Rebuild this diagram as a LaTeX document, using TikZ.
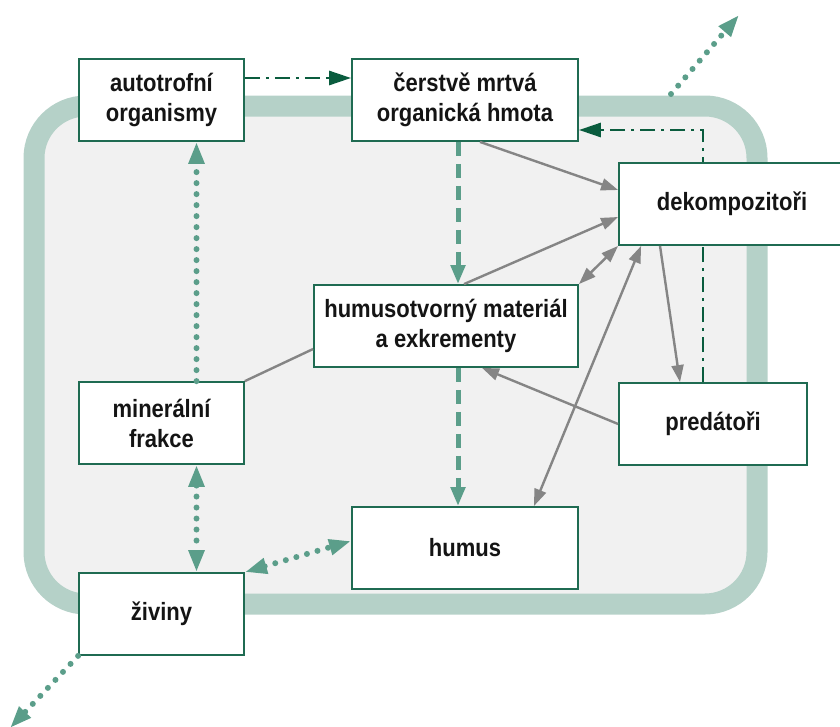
\documentclass[tikz,border=0pt]{standalone}
\usepackage{fontspec}
\setmainfont{Liberation Sans}[FakeStretch=0.88]
\usetikzlibrary{arrows.meta,calc}
\definecolor{band}{HTML}{B5D1C8}
\definecolor{bgfill}{HTML}{F1F1F1}
\definecolor{boxc}{HTML}{1F6B52}
\definecolor{dotc}{HTML}{5B9E8A}
\definecolor{ddc}{HTML}{0A5C3E}
\definecolor{grayc}{HTML}{858585}
\definecolor{txt}{HTML}{141414}
\begin{document}
\begin{tikzpicture}[x=1pt,y=-1pt,
  box/.style={draw=boxc, line width=1.8pt, fill=white, minimum height=82pt, inner sep=0pt,
    align=center, font=\bfseries\fontsize{25}{30}\selectfont, text=txt},
  grayarrow/.style={draw=grayc, line width=2.4pt, -{Triangle[length=17pt,width=12pt]}},
  grayboth/.style={draw=grayc, line width=2.4pt, {Triangle[length=17pt,width=12pt]}-{Triangle[length=17pt,width=12pt]}},
  dotline/.style={draw=dotc, line width=6pt, line cap=round, dash pattern=on 0pt off 11pt},
  dottip/.style={-{Triangle[length=22pt,width=15pt]}},
  dotboth/.style={{Triangle[length=22pt,width=15pt]}-{Triangle[length=22pt,width=15pt]}},
  thickdash/.style={draw=dotc, line width=5pt, dash pattern=on 14pt off 8pt, -{Triangle[length=19pt,width=14pt]}},
  dashdot/.style={draw=ddc, line width=2.8pt, dash pattern=on 15pt off 6pt on 3pt off 6pt, -{Triangle[length=22pt,width=14pt]}}
]
\clip (0,0) rectangle (840,726);
% background frame
\draw[line width=21pt, draw=band, fill=bgfill, rounded corners=52pt] (34,106) rectangle (757,604);

% nodes
\node[box, minimum width=165pt] (auto) at (161.5,100) {autotrofní\\organismy};
\node[box, minimum width=226pt] (cerst) at (465,100) {čerstvě mrtvá\\organická hmota};
\node[box, minimum width=188pt] (pred) at (713,424) {predátoři};
\coordinate (ddstart) at ([xshift=-10pt]pred.north);
\draw[dashdot] (ddstart) |- ([yshift=-30pt]cerst.east);
\node[box, minimum width=226pt] (dek) at (732,204) {dekompozitoři};
\node[box, minimum width=264pt] (hum) at (446,326) {humusotvorný materiál\\a exkrementy};
\node[box, minimum width=165pt] (min) at (161.5,423) {minerální\\frakce};
\node[box, minimum width=226pt] (humus) at (465,548) {humus};
\node[box, minimum width=165pt] (ziv) at (161.5,614) {živiny};

\coordinate (outbl) at (10,728);
\coordinate (outtrs) at (671,94);
\coordinate (outtr) at (739,15);

% dash-dot arrow
\draw[dashdot] ([yshift=22pt]auto.east) -- ([yshift=22pt]cerst.west);

% thick dashed
\draw[thickdash] ([xshift=-7pt]cerst.south) -- ([xshift=12pt]hum.north);
\draw[thickdash] ([xshift=12pt]hum.south) -- ([xshift=-7pt]humus.north);

% gray
\draw[grayarrow] ([xshift=15pt]cerst.south) -- ([yshift=14pt]dek.west);
\draw[grayarrow] ([xshift=18pt]hum.north) -- ([yshift=-13pt]dek.west);
\draw[grayboth] (hum.north east) -- (dek.south west);
\draw[grayboth] ([xshift=-45pt]humus.north east) -- ([xshift=23pt]dek.south west);
\draw[grayarrow] ([xshift=-72pt]dek.south) -- ([xshift=-33pt]pred.north);
\draw[grayarrow] (pred.west) -- ([xshift=36pt]hum.south);
\draw[draw=grayc, line width=2.4pt] (min.north east) -- ([yshift=-23pt]hum.west);

% dotted
\draw[dotline, dottip] ([xshift=35pt]min.north) -- ([xshift=35pt]auto.south);
\draw[dotline, dotboth] ([xshift=35pt]min.south) -- ([xshift=35pt]ziv.north);
\draw[dotline, dotboth] (ziv.north east) -- ([yshift=7pt]humus.west);
\draw[dotline, dottip] (ziv.south west) -- (outbl);
\draw[dotline, dottip] (outtrs) -- (outtr);
\end{tikzpicture}
\end{document}
